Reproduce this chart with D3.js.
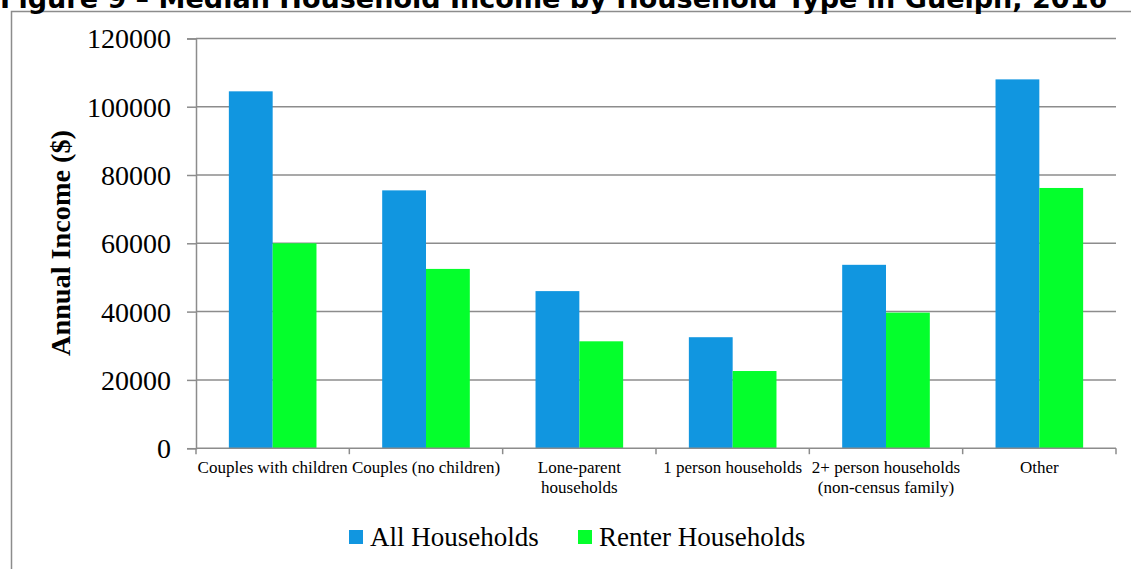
<!DOCTYPE html>
<html>
<head>
<meta charset="utf-8">
<script src="https://cdn.jsdelivr.net/npm/d3@7"></script>
<style>
  html, body { margin: 0; padding: 0; background: #fff; }
  svg { display: block; }
</style>
</head>
<body>
<svg id="chart" width="1131" height="569"></svg>
<script>
// Median household income by household type, Guelph 2016
const titleText = "Figure 9 \u2013 Median Household Income by Household Type in Guelph, 2016";
const categories = [
  "Couples with children",
  "Couples (no children)",
  "Lone-parent\nhouseholds",
  "1 person households",
  "2+ person households\n(non-census family)",
  "Other"
];
const seriesNames = ["All Households", "Renter Households"];
const allHouseholds = [104500, 75500, 46000, 32500, 53700, 108000];
const renterHouseholds = [60000, 52500, 31300, 22600, 39700, 76200];
const yTicks = [0, 20000, 40000, 60000, 80000, 100000, 120000];
const yLabel = "Annual Income ($)";

const colors = { "All Households": "#1196e0", "Renter Households": "#04ff2c" };
const gridColor = "#8c8c8c";
const serif = "'Liberation Serif', 'DejaVu Serif', serif";

const svg = d3.select("#chart");

// Outer frame of the figure
svg.append("rect")
  .attr("x", 11.5).attr("y", 11.5)
  .attr("width", 1300).attr("height", 700)
  .attr("fill", "none").attr("stroke", gridColor).attr("stroke-width", 1.5);

// Title (bold sans, sits above the frame)
const title = svg.append("text")
  .attr("x", 0).attr("y", 8)
  .attr("font-family", "'DejaVu Sans', Verdana, sans-serif")
  .attr("font-weight", "bold")
  .attr("font-size", 20)
  .attr("fill", "#000")
  .text(titleText);
const tw = title.node().getComputedTextLength();
title.attr("font-size", 20 * 1108 / tw);

// Fit a text element's font size so that it spans a given width
function fitWidth(sel, target, base) {
  sel.each(function () {
    const w = this.getComputedTextLength();
    if (w > 0) d3.select(this).attr("font-size", base * target / w);
  });
}

const plot = { left: 196, right: 1116, top: 38.4, bottom: 448.2 };

const y = d3.scaleLinear().domain([0, 120000]).range([plot.bottom, plot.top]);
const x = d3.scaleBand().domain(categories).range([plot.left, plot.right]).paddingInner(0).paddingOuter(0);
const xs = d3.scaleBand().domain(seriesNames).range([0, x.bandwidth()]).paddingInner(0).paddingOuter(0.75);

// Horizontal gridlines
svg.append("g")
  .selectAll("line")
  .data(yTicks.filter(d => d > 0))
  .join("line")
  .attr("x1", plot.left).attr("x2", plot.right)
  .attr("y1", d => y(d)).attr("y2", d => y(d))
  .attr("stroke", gridColor).attr("stroke-width", 1.5);

// Bars
const rows = categories.map((c, i) => ({
  category: c,
  values: [
    { series: seriesNames[0], value: allHouseholds[i] },
    { series: seriesNames[1], value: renterHouseholds[i] }
  ]
}));

svg.append("g")
  .selectAll("g")
  .data(rows)
  .join("g")
  .attr("transform", d => `translate(${x(d.category)},0)`)
  .selectAll("rect")
  .data(d => d.values)
  .join("rect")
  .attr("x", d => xs(d.series))
  .attr("width", xs.bandwidth())
  .attr("y", d => y(d.value))
  .attr("height", d => y(0) - y(d.value))
  .attr("fill", d => colors[d.series]);

// Y axis
const yAxis = svg.append("g")
  .attr("transform", `translate(${plot.left},0)`)
  .call(d3.axisLeft(y).tickValues(yTicks).tickFormat(d3.format("d")).tickSize(9).tickPadding(16));
yAxis.select(".domain").attr("stroke", gridColor).attr("stroke-width", 1.5);
yAxis.selectAll(".tick line").attr("stroke", gridColor).attr("stroke-width", 1.5);
yAxis.selectAll(".tick text")
  .attr("font-family", serif).attr("font-size", 28).attr("fill", "#000")
  .attr("dy", "0.34em");

// X axis with ticks at category boundaries
const xAxisG = svg.append("g").attr("transform", `translate(0,${plot.bottom})`);
xAxisG.append("line")
  .attr("x1", plot.left).attr("x2", plot.right)
  .attr("stroke", gridColor).attr("stroke-width", 1.5);
const boundaries = categories.map(c => x(c)).concat([x(categories[categories.length - 1]) + x.bandwidth()]);
xAxisG.selectAll("line.tk")
  .data(boundaries)
  .join("line")
  .attr("class", "tk")
  .attr("x1", d => d).attr("x2", d => d)
  .attr("y1", 0).attr("y2", 6)
  .attr("stroke", gridColor).attr("stroke-width", 1.5);

// Category labels (wrapped on explicit line breaks)
const catLabels = xAxisG.selectAll("text.cat")
  .data(categories)
  .join("text")
  .attr("class", "cat")
  .attr("text-anchor", "middle")
  .attr("font-family", serif)
  .attr("font-size", 17)
  .attr("fill", "#000")
  .attr("transform", d => `translate(${x(d) + x.bandwidth() / 2},25)`);
catLabels.selectAll("tspan")
  .data(d => d.split("\n"))
  .join("tspan")
  .attr("x", 0)
  .attr("dy", (d, i) => i === 0 ? 0 : 20)
  .text(d => d);

// Y axis title
const yTitle = svg.append("text")
  .attr("transform", `translate(70,243) rotate(-90)`)
  .attr("text-anchor", "middle")
  .attr("font-family", serif)
  .attr("font-weight", "bold")
  .attr("font-size", 24)
  .attr("fill", "#000")
  .text(yLabel);
fitWidth(yTitle, 226, 24);

// Legend
const legendItems = [
  { name: seriesNames[0], x: 349, w: 170 },
  { name: seriesNames[1], x: 578, w: 216 }
];
const lg = svg.append("g")
  .selectAll("g")
  .data(legendItems)
  .join("g")
  .attr("transform", d => `translate(${d.x},0)`);
lg.append("rect")
  .attr("x", 0).attr("y", 530)
  .attr("width", 14).attr("height", 14)
  .attr("fill", d => colors[d.name]);
lg.append("text")
  .attr("x", 21).attr("y", 546)
  .attr("font-family", serif)
  .attr("font-size", 27)
  .attr("fill", "#000")
  .text(d => d.name);
</script>
</body>
</html>
